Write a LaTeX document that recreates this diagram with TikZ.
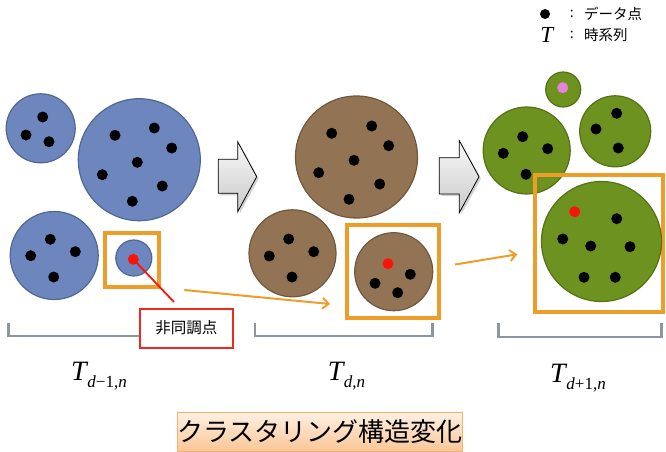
\documentclass[tikz,border=0pt]{standalone}
\usepackage{fontspec}
\setmainfont{Liberation Serif}
\newfontfamily\jp{Noto Sans CJK JP}
\usetikzlibrary{arrows.meta,shadows,calc}
\definecolor{blueF}{RGB}{110,134,190}
\definecolor{blueD}{RGB}{80,103,150}
\definecolor{brownF}{RGB}{146,116,84}
\definecolor{brownD}{RGB}{112,88,60}
\definecolor{greenF}{RGB}{110,146,32}
\definecolor{greenD}{RGB}{84,114,20}
\definecolor{orangeC}{RGB}{238,158,40}
\definecolor{brkC}{RGB}{140,150,160}
\definecolor{pinkC}{RGB}{232,130,220}
\definecolor{redC}{RGB}{250,20,10}
\definecolor{boxRed}{RGB}{240,40,30}
\definecolor{titleTop}{RGB}{254,240,226}
\definecolor{titleBot}{RGB}{250,198,150}
\definecolor{titleLine}{RGB}{245,180,110}
\newcommand{\Tlab}[1]{{\fontsize{28}{28}\selectfont\textit{T}}\kern-1pt\raisebox{-7pt}{\fontsize{17}{17}\selectfont #1}}
\begin{document}
\begin{tikzpicture}[x=1pt,y=-1pt,
  clu/.style={circle,inner sep=0pt,minimum size=#1,line width=1.2pt},
  bl/.style={clu=#1,fill=blueF,draw=blueD},
  br/.style={clu=#1,fill=brownF,draw=brownD},
  gr/.style={clu=#1,fill=greenF,draw=greenD},
  dot/.style={circle,fill=black,inner sep=0pt,minimum size=11pt},
  rdot/.style={circle,fill=redC,inner sep=0pt,minimum size=11pt},
  obox/.style={draw=orangeC,line width=4pt,inner sep=0pt},
  brk/.style={draw=brkC,line width=2.5pt},
  oarr/.style={draw=orangeC,line width=2pt,-{Straight Barb[length=6pt,width=11pt]}},
  barrow/.style={draw=black,line width=0.8pt,top color=gray!5,bottom color=gray!42,
    drop shadow={shadow xshift=2pt,shadow yshift=-2pt,opacity=0.35}},
  tlab/.style={inner sep=0pt},
]
\useasboundingbox (0,0) rectangle (666,452);

% brackets
\draw[brk] (8.3,323) -- (8.3,336) -- (200,336) -- (200,323);
\draw[brk] (255,323) -- (255,336) -- (432.7,336) -- (432.7,323);
\draw[brk] (498.3,323) -- (498.3,337) -- (661.7,337) -- (661.7,323);

% block arrows
\path[barrow] (218.3,159.3) -- (237.7,159.3) -- (237.7,141.7) -- (256.7,176.7) -- (237.7,211.7) -- (237.7,193.3) -- (218.3,193.3) -- cycle;
\path[barrow] (439.3,157.7) -- (459.3,157.7) -- (459.3,140.7) -- (479,176.7) -- (459.3,212.7) -- (459.3,194) -- (439.3,194) -- cycle;

% ---- blue (T_{d-1,n})
\node[bl=69pt] (b1) at (40.7,128.3) {};
\node[dot] (b1a) at (42.7,117) {};
\node[dot] (b1b) at (26,135) {};
\node[dot] (b1c) at (49,141.7) {};
\node[bl=122pt] (b2) at (139.3,159.7) {};
\node[dot] (b2a) at (115,135.3) {};
\node[dot] (b2b) at (154.3,128) {};
\node[dot] (b2c) at (171.7,148) {};
\node[dot] (b2d) at (137.3,162.3) {};
\node[dot] (b2e) at (102.3,174.7) {};
\node[dot] (b2f) at (162.3,186) {};
\node[dot] (b2g) at (132.3,201.3) {};
\node[bl=88pt] (b3) at (54.2,255.5) {};
\node[dot] (b3a) at (50.3,239.3) {};
\node[dot] (b3b) at (30.7,255.7) {};
\node[dot] (b3c) at (75.3,251.7) {};
\node[dot] (b3d) at (53.7,277) {};
\node[obox,minimum width=54pt,minimum height=54pt] (ob1) at (132.2,260.3) {};
\node[bl=36pt] (b4) at (133.8,258) {};
\node[rdot] (rd1) at (133.3,259.3) {};

% ---- brown (T_{d,n})
\node[br=122pt] (c1) at (356.5,157) {};
\node[dot] (c1a) at (331.7,133.3) {};
\node[dot] (c1b) at (371.7,126) {};
\node[dot] (c1c) at (388.7,145.7) {};
\node[dot] (c1d) at (354,160.3) {};
\node[dot] (c1e) at (318.7,172.7) {};
\node[dot] (c1f) at (379.7,184) {};
\node[dot] (c1g) at (349,199.3) {};
\node[br=87pt] (c2) at (292.5,253.3) {};
\node[dot] (c2a) at (288.7,239) {};
\node[dot] (c2b) at (269.3,256) {};
\node[dot] (c2c) at (313.7,251.7) {};
\node[dot] (c2d) at (292,277) {};
\node[obox,minimum width=92.6pt,minimum height=93.3pt] (ob2) at (393,271.7) {};
\node[br=78pt] (c3) at (393.7,271.7) {};
\node[rdot] (rd2) at (388,263.7) {};
\node[dot] (c3a) at (410.3,274.3) {};
\node[dot] (c3b) at (375,283.3) {};
\node[dot] (c3c) at (397.7,292.7) {};

% ---- green (T_{d+1,n})
\node[gr=35pt] (g1) at (563.2,89.5) {};
\node[circle,fill=pinkC,inner sep=0pt,minimum size=11pt] (pd) at (562.7,87.7) {};
\node[gr=87pt] (g2) at (526.7,150.5) {};
\node[dot] (g2a) at (522.7,136.7) {};
\node[dot] (g2b) at (503.3,153.3) {};
\node[dot] (g2c) at (547.7,148.7) {};
\node[dot] (g2d) at (526,174.3) {};
\node[gr=71pt] (g3) at (615.2,131.3) {};
\node[dot] (g3a) at (616.7,113.3) {};
\node[dot] (g3b) at (596,129) {};
\node[dot] (g3c) at (618.3,148) {};
\node[obox,minimum width=128pt,minimum height=136.7pt] (ob3) at (599,243.3) {};
\node[gr=120pt] (g4) at (601.5,241.5) {};
\node[rdot] (rd3) at (574.7,211.7) {};
\node[dot] (g4a) at (616.7,218.7) {};
\node[dot] (g4b) at (562.7,239) {};
\node[dot] (g4c) at (590.7,246) {};
\node[dot] (g4d) at (630,246.7) {};
\node[dot] (g4e) at (584,277.3) {};
\node[dot] (g4f) at (615.3,277.3) {};

% orange arrows
\coordinate (oa1s) at (184.3,290);
\coordinate (oa1e) at (330,304);
\coordinate (oa2s) at (455,264.5);
\coordinate (oa2e) at (517.3,254.3);
\draw[oarr] (oa1s) -- (oa1e);
\draw[oarr] (oa2s) -- (oa2e);

% red line and label
\coordinate (rlend) at (174,302);
\draw[redC,line width=1.8pt] (rd1.center) -- (rlend);
\node[draw=boxRed,line width=2pt,fill=white,minimum width=93pt,minimum height=39pt,inner sep=0pt,font=\jp\fontsize{15.5}{16}\selectfont] (nc) at (186.3,328) {非同調点};

% T labels
\node[tlab] (t1) at (99,376) {\Tlab{\textit{d}−1,\textit{n}}};
\node[tlab] (t2) at (346.5,376) {\Tlab{\textit{d},\textit{n}}};
\node[tlab] (t3) at (578,378) {\Tlab{\textit{d}+1,\textit{n}}};

% legend
\node[circle,fill=black,inner sep=0pt,minimum size=10pt] (lg1) at (545,14) {};
\node[inner sep=0pt,font=\jp\fontsize{14}{14}\selectfont] (lc1) at (571.7,14) {:};
\node[inner sep=0pt,anchor=west,font=\jp\fontsize{14.5}{15}\selectfont] (lt1) at (584,14) {データ点};
\node[inner sep=0pt,font=\fontsize{23}{23}\selectfont\itshape] (lg2) at (546.7,35) {T};
\node[inner sep=0pt,font=\jp\fontsize{14}{14}\selectfont] (lc2) at (571.7,35) {:};
\node[inner sep=0pt,anchor=west,font=\jp\fontsize{14.5}{15}\selectfont] (lt2) at (584,35) {時系列};

% title
\node[draw=titleLine,line width=1pt,top color=titleTop,bottom color=titleBot,minimum width=284pt,minimum height=39pt,inner sep=0pt,font=\jp\fontsize{26}{27}\selectfont] (title) at (320,432) {クラスタリング構造変化};
\end{tikzpicture}
\end{document}
